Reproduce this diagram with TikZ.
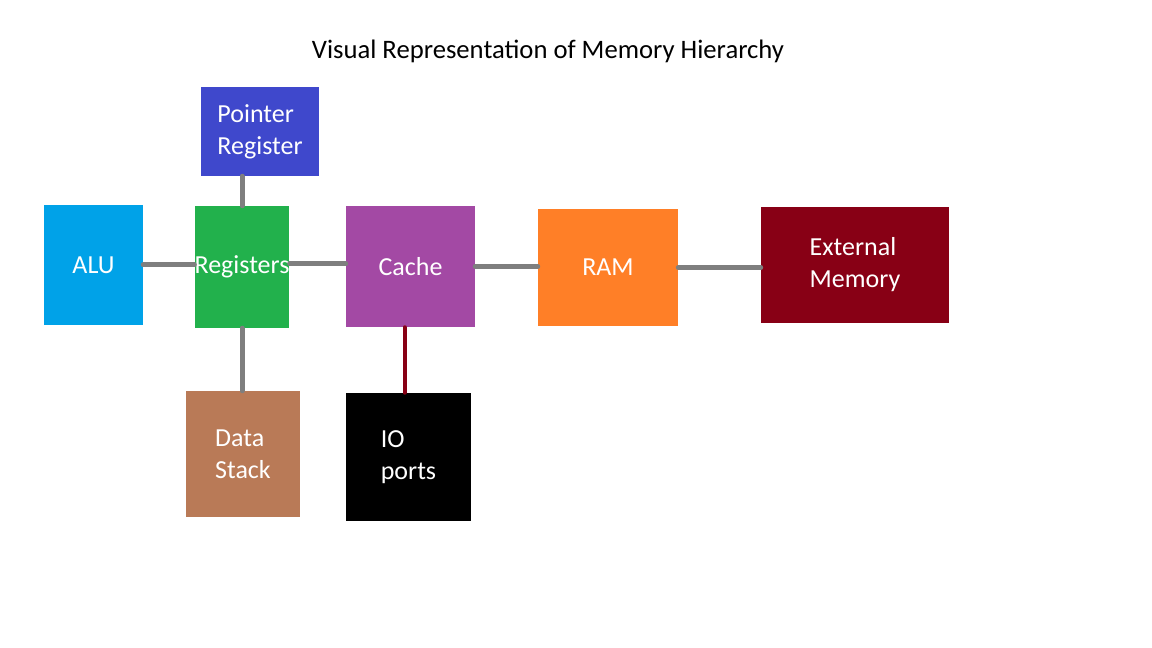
\documentclass[tikz,border=0pt]{standalone}
\usepackage{fontspec}
\setmainfont{Carlito}
\usetikzlibrary{positioning, calc}

\definecolor{alublue}{HTML}{00A2E8}
\definecolor{ptrblue}{HTML}{3F48CC}
\definecolor{reggreen}{HTML}{22B14C}
\definecolor{stackbrown}{HTML}{B97A57}
\definecolor{cachepurple}{HTML}{A349A4}
\definecolor{ramorange}{HTML}{FF7F27}
\definecolor{extred}{HTML}{880015}
\definecolor{linkgray}{HTML}{7F7F7F}

\newdimen\px
\px=0.75pt

\begin{document}
\begin{tikzpicture}[
    x=\px, y=-\px,
    block/.style={
        inner sep=0pt,
        align=left,
        text=white,
        font=\fontsize{19.5}{24}\selectfont
    },
    link/.style={draw=linkgray, line width=5\px, line cap=round},
    iolink/.style={draw=extred, line width=4\px, line cap=round}
]
\useasboundingbox (0,0) rectangle (1152,648);

\node[font=\fontsize{20}{24}\selectfont] (title) at (548,51) {Visual Representation of Memory Hierarchy};

\node[block, fill=alublue, minimum width=99\px, minimum height=120\px] (alu) at (93.5,265) {ALU};
\node[block, fill=ptrblue, minimum width=118\px, minimum height=89\px] (ptr) at (260,131.5) {Pointer\\Register};
\node[block, fill=reggreen, minimum width=94\px, minimum height=122\px] (regs) at (242,267) {Registers};
\node[block, fill=stackbrown, minimum width=114\px, minimum height=126\px] (stack) at (243,454) {Data\\Stack};
\node[block, fill=cachepurple, minimum width=129\px, minimum height=121\px] (cache) at (410.5,266.5) {Cache};
\node[block, fill=black, minimum width=125\px, minimum height=128\px] (io) at (408.5,457) {IO\\ports};
\node[block, fill=ramorange, minimum width=140\px, minimum height=117\px] (ram) at (608,267.5) {RAM};
\node[block, fill=extred, minimum width=188\px, minimum height=116\px] (ext) at (855,265) {External\\Memory};

\draw[link] (alu.east) -- (alu.east -| regs.west);
\draw[link] (ptr.south -| regs.north) -- (regs.north);
\draw[link] ($(regs.east)+(0,-3)$) -- ($(regs.east -| cache.west)+(0,-3)$);
\draw[link] (regs.south) -- (regs.south |- stack.north);
\draw[link] (cache.east) -- (cache.east -| ram.west);
\draw[iolink] ($(io.north |- cache.south)+(-4,0)$) -- ($(io.north)+(-4,0)$);
\draw[link] (ram.east) -- (ram.east -| ext.west);
\end{tikzpicture}
\end{document}
